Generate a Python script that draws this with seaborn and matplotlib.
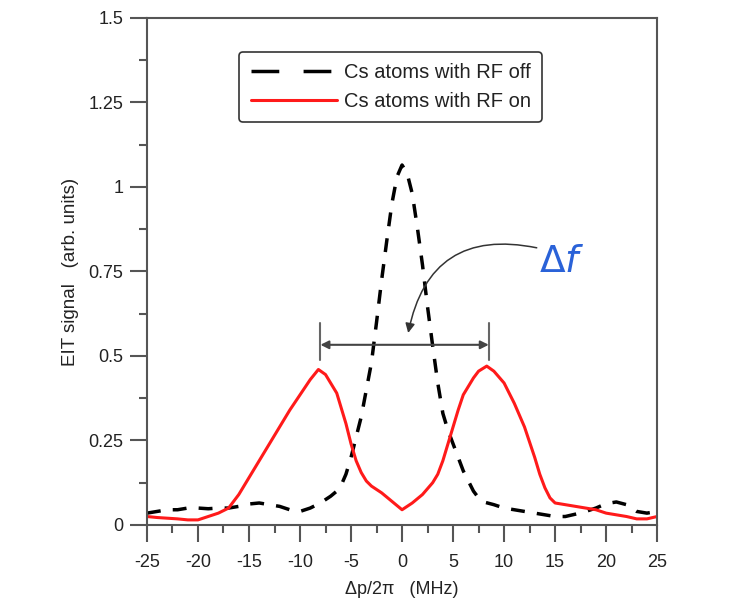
import matplotlib
matplotlib.use('Agg')
import matplotlib.pyplot as plt
import seaborn as sns
import pandas as pd
from matplotlib.ticker import MultipleLocator
from matplotlib.lines import Line2D

# probe detuning (MHz) and EIT signal
x_off = [-25, -24, -23, -22, -21, -20, -19, -18, -17, -16, -15, -14, -13, -12, -11, -10,
         -9, -8, -7, -6.4, -6, -5.5, -5, -4.5, -4, -3.5, -3, -2.5, -2, -1.5, -1, -0.5,
         0, 0.5, 1, 1.5, 2, 2.5, 3, 3.5, 4, 4.5, 5, 5.5, 6, 6.5, 7, 7.5, 8, 9, 10,
         11, 12, 13, 14, 15, 16, 17, 18, 19, 20, 21, 22, 23, 24, 25]
y_off = [0.035, 0.04, 0.045, 0.045, 0.05, 0.05, 0.048, 0.05, 0.05, 0.055, 0.062, 0.065,
         0.06, 0.055, 0.045, 0.04, 0.05, 0.065, 0.085, 0.1, 0.115, 0.15, 0.2, 0.26, 0.32,
         0.4, 0.48, 0.6, 0.725, 0.84, 0.95, 1.03, 1.065, 1.04, 0.98, 0.88, 0.77, 0.645,
         0.53, 0.42, 0.33, 0.28, 0.24, 0.2, 0.16, 0.13, 0.1, 0.08, 0.068, 0.06, 0.05,
         0.045, 0.04, 0.035, 0.03, 0.025, 0.025, 0.032, 0.04, 0.05, 0.063, 0.068, 0.06,
         0.04, 0.035, 0.04]

x_on = [-25, -24, -23, -22, -21, -20, -19, -18, -17, -16, -15, -14, -13, -12, -11, -10,
        -9, -8.2, -7.5, -7, -6.4, -6, -5.5, -5, -4.5, -4, -3.5, -3, -2, -1, 0, 1, 2, 3,
        3.5, 4, 4.5, 5, 5.5, 6, 6.5, 7, 7.5, 8.3, 9, 10, 11, 12, 13, 13.5, 14, 14.5,
        15, 16, 17, 18, 19, 20, 21, 22, 23, 24, 25]
y_on = [0.025, 0.022, 0.02, 0.018, 0.015, 0.015, 0.025, 0.035, 0.05, 0.09, 0.14, 0.19,
        0.24, 0.29, 0.34, 0.385, 0.43, 0.46, 0.445, 0.42, 0.39, 0.35, 0.3, 0.24, 0.19,
        0.155, 0.13, 0.115, 0.095, 0.07, 0.045, 0.065, 0.09, 0.125, 0.15, 0.19, 0.24,
        0.29, 0.34, 0.385, 0.41, 0.435, 0.455, 0.47, 0.455, 0.42, 0.36, 0.29, 0.2, 0.15,
        0.11, 0.08, 0.065, 0.06, 0.055, 0.05, 0.045, 0.035, 0.03, 0.025, 0.018, 0.018,
        0.025]

label_off = 'Cs atoms with RF off'
label_on = 'Cs atoms with RF on'

# peak positions marked by the double arrow
peak_left, peak_right, arrow_level = -8.0, 8.5, 0.533


def main():
    sns.set_style('ticks')
    plt.rcParams['font.family'] = ['Liberation Sans', 'DejaVu Sans']
    plt.rcParams['mathtext.fontset'] = 'dejavusans'
    plt.rcParams['axes.unicode_minus'] = False

    df_off = pd.DataFrame({'x': x_off, 'y': y_off})
    df_on = pd.DataFrame({'x': x_on, 'y': y_on})

    fig = plt.figure(figsize=(7.33, 6.09), dpi=100)
    ax = fig.add_axes([0.2005, 0.138, 0.696, 0.8325])

    sns.lineplot(data=df_off, x='x', y='y', ax=ax, color='black', lw=2.5,
                 linestyle=(0, (4, 3.5)))
    sns.lineplot(data=df_on, x='x', y='y', ax=ax, color='#ff1a1a', lw=2.2)

    ax.set_xlim(-25, 25)
    ax.set_ylim(0, 1.5)
    ax.xaxis.set_major_locator(MultipleLocator(5))
    ax.xaxis.set_minor_locator(MultipleLocator(2.5))
    ax.yaxis.set_minor_locator(MultipleLocator(0.125))
    ax.set_yticks([0, 0.25, 0.5, 0.75, 1, 1.25, 1.5])
    ax.set_yticklabels(['0', '0.25', '0.5', '0.75', '1', '1.25', '1.5'])

    spine_c = '#555555'
    for s in ax.spines.values():
        s.set_color(spine_c)
        s.set_linewidth(1.5)
    ax.tick_params(which='major', direction='out', length=12, width=1.5,
                   color=spine_c, labelsize=13, labelcolor='#222222', pad=5)
    ax.tick_params(which='minor', direction='out', length=6, width=1.5, color=spine_c)
    ax.tick_params(axis='x', which='major', pad=9)

    ax.set_xlabel('Δp/2π   (MHz)', fontsize=13, color='#222222', labelpad=7)
    ax.set_ylabel('EIT signal   (arb. units)', fontsize=13.5, color='#222222', labelpad=7)

    # splitting marker
    ax.annotate('', xy=(peak_right, arrow_level), xytext=(peak_left, arrow_level),
                arrowprops=dict(arrowstyle='<|-|>', color='#444444', lw=1.5,
                                mutation_scale=12, shrinkA=0, shrinkB=0))
    for px in (peak_left, peak_right):
        ax.plot([px, px], [arrow_level - 0.045, arrow_level + 0.065], color='#666666', lw=1.5)

    ax.text(13.4, 0.778, r'$\Delta f$', fontsize=27, color='#2a62d8', ha='left', va='center')
    ax.annotate('', xy=(0.6, 0.568), xytext=(13.2, 0.82),
                arrowprops=dict(arrowstyle='-|>', color='#333333', lw=1.1,
                                mutation_scale=14, shrinkA=0, shrinkB=0,
                                connectionstyle='arc3,rad=0.5'))

    handles = [Line2D([], [], color='black', lw=2.5, linestyle=(0, (8, 7))),
               Line2D([], [], color='#ff1a1a', lw=2.2)]
    leg = ax.legend(handles, [label_off, label_on], loc='upper center',
                    bbox_to_anchor=(0.478, 0.933), fontsize=14.5, borderaxespad=0,
                    handlelength=4.3, handletextpad=0.35, labelspacing=0.5,
                    frameon=True, fancybox=True, borderpad=0.55)
    leg.get_frame().set_edgecolor('black')
    leg.get_frame().set_linewidth(1.2)
    for t in leg.get_texts():
        t.set_color('#222222')

    fig.savefig('out.png', dpi=100)


if __name__ == '__main__':
    main()
